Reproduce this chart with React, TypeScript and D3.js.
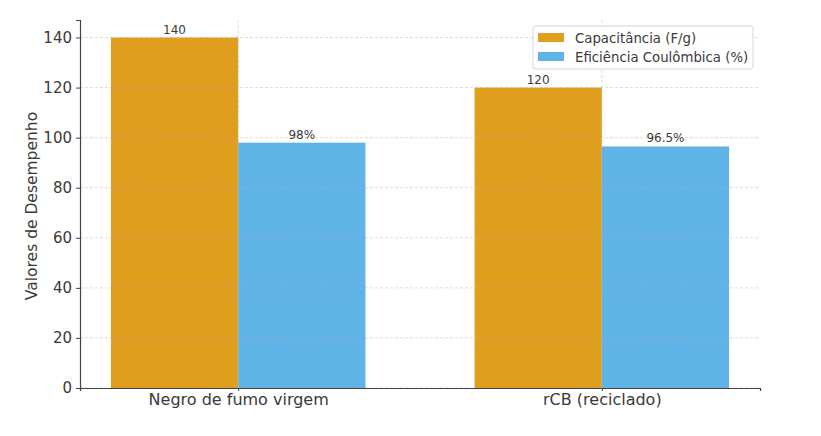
import * as d3 from "d3";
import { useEffect, useRef } from "react";

const categories = ["Negro de fumo virgem", "rCB (reciclado)"];
const capacitance = [140, 120];
const efficiency = [98, 96.5];
const capLabels = ["140", "120"];
const effLabels = ["98%", "96.5%"];
const yTicks = [0, 20, 40, 60, 80, 100, 120, 140];
const seriesNames = ["Capacitância (F/g)", "Eficiência Coulômbica (%)"];

const colors = ["#e09e1e", "#60b3e6"];
const textColor = "#3a3a3a";
const font = "DejaVu Sans, sans-serif";

const App = () => {
  const svgRef = useRef<SVGSVGElement | null>(null);
  const width = 821;
  const height = 436;
  const margin = { top: 20, right: 61, bottom: 48, left: 80 };
  const barW = 0.35;

  useEffect(() => {
    const svg = d3.select(svgRef.current);
    svg.selectAll("*").remove();

    const x = d3.scaleLinear()
      .domain([-0.435, 1.435])
      .range([margin.left, width - margin.right]);
    const y = d3.scaleLinear()
      .domain([0, 147])
      .range([height - margin.bottom, margin.top]);

    const series = [
      { values: capacitance, labels: capLabels, offset: -barW },
      { values: efficiency, labels: effLabels, offset: 0 }
    ];

    // Bars
    series.forEach((s, si) => {
      svg.append("g")
        .selectAll("rect")
        .data(s.values)
        .enter()
        .append("rect")
        .attr("x", (d, i) => x(i + s.offset))
        .attr("width", x(barW) - x(0))
        .attr("y", d => y(d))
        .attr("height", d => y(0) - y(d))
        .attr("fill", colors[si]);
    });

    // Grid (drawn over bars, faint)
    const grid = svg.append("g")
      .attr("stroke", "#b0b0b0")
      .attr("stroke-opacity", 0.55)
      .attr("stroke-dasharray", "3,2")
      .attr("stroke-width", 0.8);
    grid.selectAll("line.h")
      .data(yTicks)
      .enter()
      .append("line")
      .attr("x1", margin.left)
      .attr("x2", width - margin.right)
      .attr("y1", d => y(d))
      .attr("y2", d => y(d));
    grid.selectAll("line.v")
      .data(categories)
      .enter()
      .append("line")
      .attr("x1", (d, i) => x(i))
      .attr("x2", (d, i) => x(i))
      .attr("y1", margin.top)
      .attr("y2", height - margin.bottom);

    // Value labels
    series.forEach(s => {
      svg.append("g")
        .selectAll("text")
        .data(s.labels)
        .enter()
        .append("text")
        .attr("x", (d, i) => x(i + s.offset + barW / 2))
        .attr("y", (d, i) => y(s.values[i]) - 4)
        .attr("text-anchor", "middle")
        .attr("font-family", font)
        .attr("font-size", 12)
        .attr("fill", textColor)
        .text(d => d);
    });

    // Y axis
    const yAxis = svg.append("g")
      .attr("transform", `translate(${margin.left},0)`)
      .call(d3.axisLeft(y).tickValues(yTicks).tickSize(4).tickPadding(4));
    yAxis.select(".domain").attr("stroke", "#444").attr("stroke-width", 1.2);
    yAxis.selectAll(".tick line").attr("stroke", "#444");
    yAxis.selectAll(".tick text")
      .attr("font-family", font)
      .attr("font-size", 15)
      .attr("fill", textColor);

    // X axis
    const xAxis = svg.append("g")
      .attr("transform", `translate(0,${y(0)})`)
      .call(d3.axisBottom(x).tickValues([0, 1]).tickSize(3).tickPadding(3)
        .tickFormat((d) => categories[Number(d)]));
    xAxis.select(".domain").attr("stroke", "#444").attr("stroke-width", 1.2);
    xAxis.selectAll(".tick line").attr("stroke", "#444");
    xAxis.selectAll(".tick text")
      .attr("font-family", font)
      .attr("font-size", 16)
      .attr("fill", textColor);

    // Y label
    svg.append("text")
      .attr("transform", `translate(37,${(y(0) + margin.top) / 2 + 2}) rotate(-90)`)
      .attr("text-anchor", "middle")
      .attr("font-family", font)
      .attr("font-size", 15.5)
      .attr("fill", textColor)
      .text("Valores de Desempenho");

    // Legend
    const lg = svg.append("g").attr("transform", "translate(533,26)");
    lg.append("rect")
      .attr("width", 220)
      .attr("height", 43)
      .attr("rx", 3)
      .attr("fill", "white")
      .attr("fill-opacity", 0.85)
      .attr("stroke", "#d6d6d6");
    seriesNames.forEach((name, i) => {
      lg.append("rect")
        .attr("x", 5)
        .attr("y", 7 + i * 19)
        .attr("width", 26)
        .attr("height", 9)
        .attr("fill", colors[i]);
      lg.append("text")
        .attr("x", 42)
        .attr("y", 16.5 + i * 19)
        .attr("font-family", font)
        .attr("font-size", 13.3)
        .attr("fill", textColor)
        .text(name);
    });
  }, []);

  return (
    <svg ref={svgRef} width={width} height={height}
      style={{ position: "absolute", left: 0, top: 0, background: "white" }} />
  );
};

export default App;
